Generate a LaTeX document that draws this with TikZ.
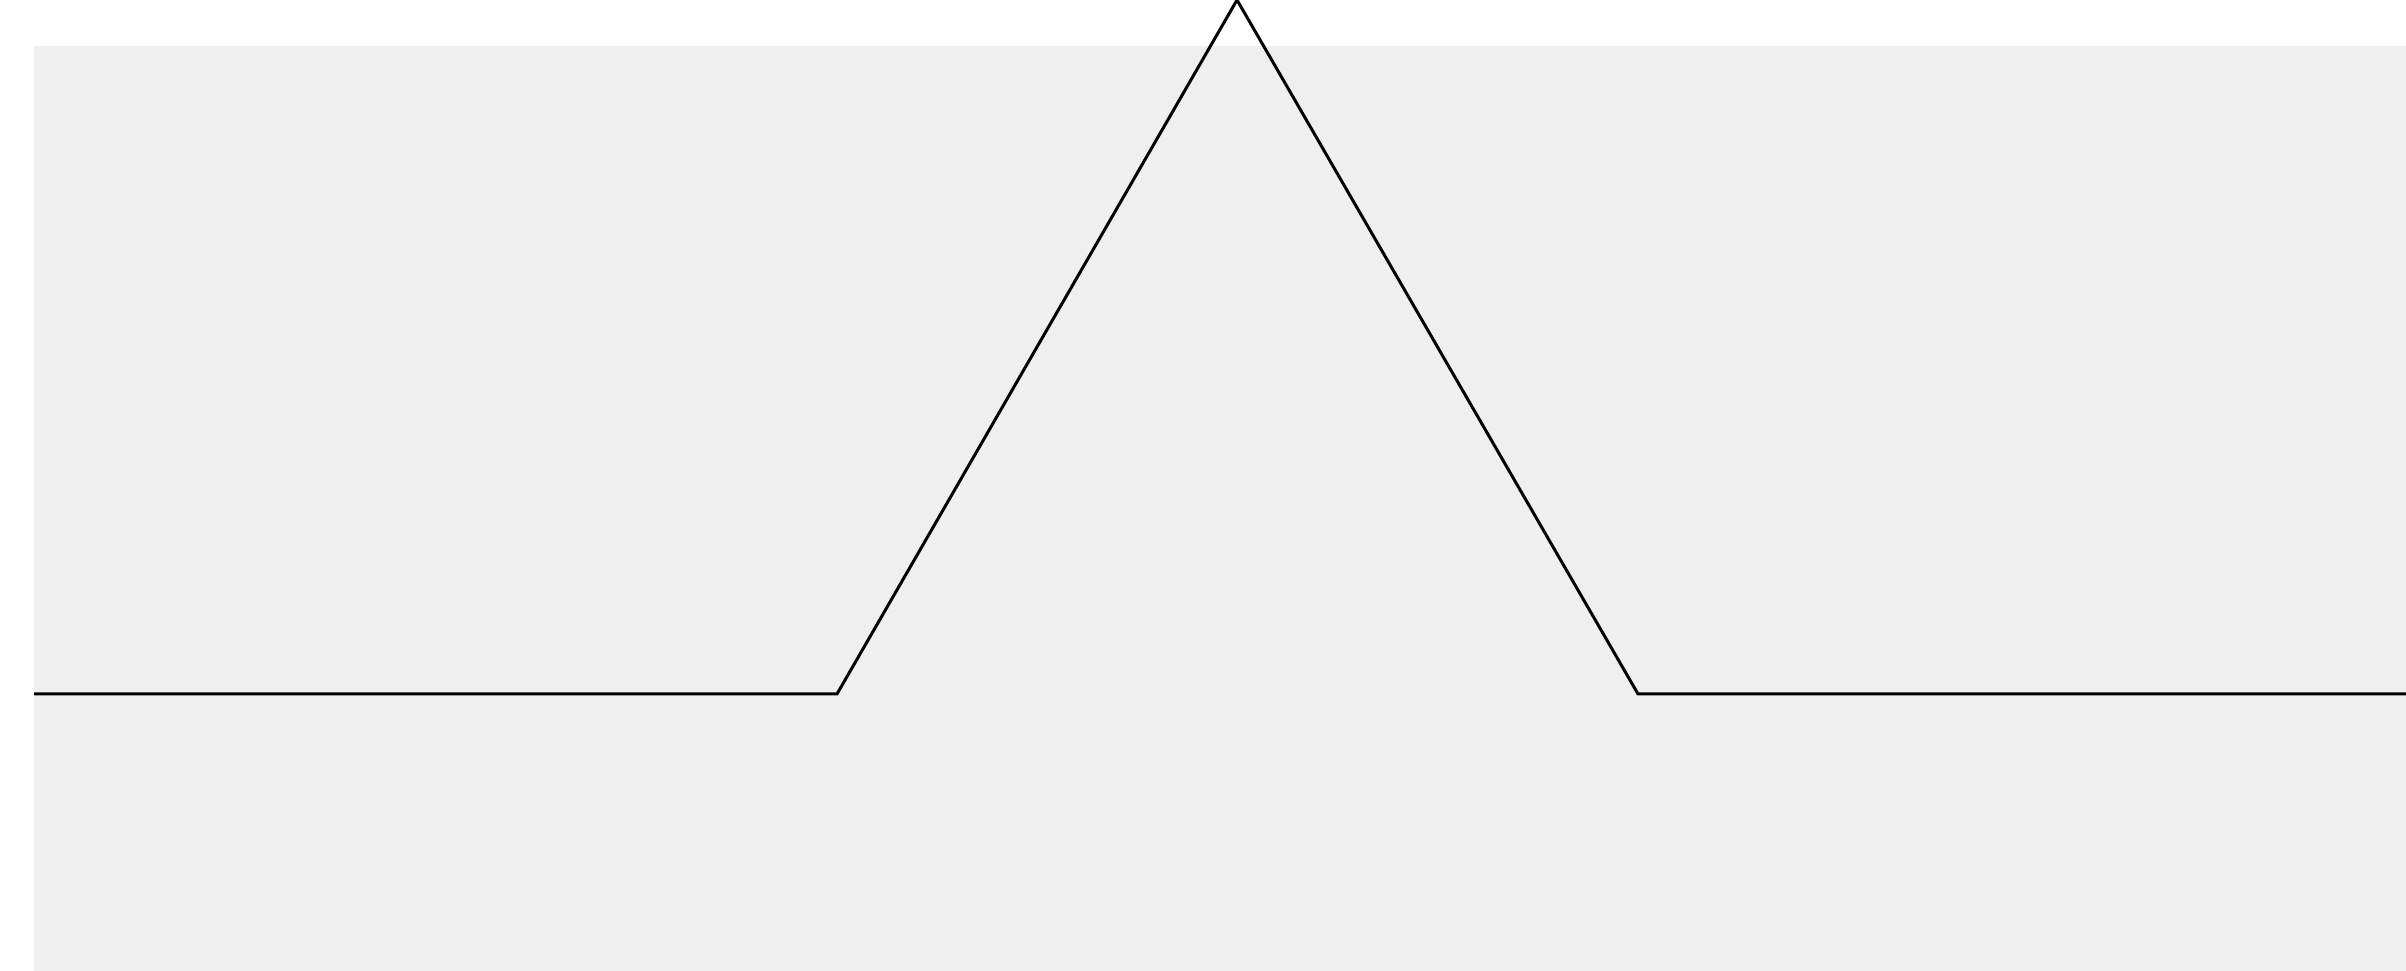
\documentclass[tikz,border=0pt]{standalone}
\usepackage{tikz}
\usetikzlibrary{arrows,arrows.meta}
\definecolor{bgpaper}{RGB}{239,239,239}
\begin{document}
\begin{tikzpicture}[
x=0.01cm, y=0.01cm,
paper/.style={fill=bgpaper, draw=none},
koch/.style={line width=0.85pt, line join=miter, black} ]

\useasboundingbox (0,0) rectangle (2406,971);
\clip (0,0) rectangle (2406,971);

\fill[paper] (34,0) rectangle (2406,925);

\coordinate (P0) at (34,277);
\coordinate (P1) at (837,277);
\coordinate (P2) at (1237,971);
\coordinate (P3) at (1638,277);
\coordinate (P4) at (2440,277);

\draw[koch] (P0) -- (P1) -- (P2) -- (P3) -- (P4);

\end{tikzpicture}
\end{document}
